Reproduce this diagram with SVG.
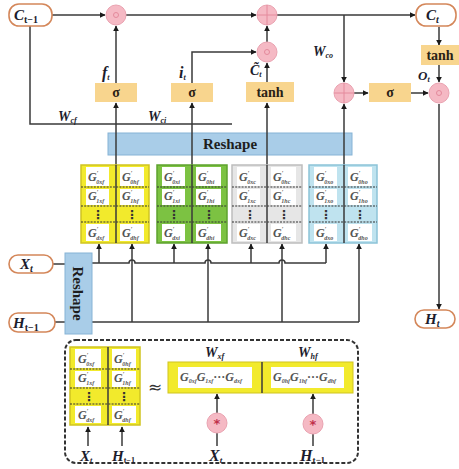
<svg xmlns="http://www.w3.org/2000/svg" width="459" height="469" viewBox="0 0 459 469">
<defs>
<marker id="ah" viewBox="0 0 10 10" refX="9" refY="5" markerWidth="6" markerHeight="6" orient="auto" markerUnits="userSpaceOnUse"><path d="M0,0 L10,5 L0,10 z" fill="#1a1a1a"/></marker>
<style>
.ln{fill:none;stroke:#3a3a3a;stroke-width:1.5}
.term{fill:#fff;stroke:#d4875a;stroke-width:1.6}
.tl{font-family:"Liberation Serif",serif;font-weight:bold;font-style:italic;fill:#1c1c2c}
.op{fill:#f5b9c4;stroke:#eaa3b1;stroke-width:1}
.gate{fill:#f8d58e}
.gt{font-family:"Liberation Serif",serif;font-weight:bold;font-size:14px;fill:#2a2216;text-anchor:middle}
.lab{font-family:"Liberation Serif",serif;font-style:italic;font-weight:bold;fill:#1c1c2c}
.cal{font-family:"DejaVu Serif","DejaVu Sans",serif;font-style:italic;font-weight:bold;fill:#1c1c2c}
.cell{fill:#fff}
.g{font-family:"Liberation Serif","DejaVu Serif",serif;font-style:italic;font-weight:bold;font-size:12px;fill:#555}
.s{font-size:6px}
.sep{stroke:#333;stroke-width:1.2;stroke-dasharray:2 1.2}
.dots{font-family:"DejaVu Sans",sans-serif;font-weight:bold;font-size:12px;fill:#333;text-anchor:middle}
.rs{fill:#a9cde8;stroke:#86b3d6;stroke-width:1}
.rst{font-family:"Liberation Serif",serif;font-weight:bold;font-size:15px;fill:#1e1e1e;text-anchor:middle}
</style>
</defs>

<g id="connectors">
<path class="ln" d="M52,15 H105" marker-end="url(#ah)"/>
<path class="ln" d="M126,15 H256" marker-end="url(#ah)"/>
<path class="ln" d="M277,15 H415" marker-end="url(#ah)"/>
<path class="ln" d="M30,26 V124 H232"/>
<path class="ln" d="M116,83 V26" marker-end="url(#ah)"/>
<path class="ln" d="M192,83 V52 H256" marker-end="url(#ah)"/>
<path class="ln" d="M267,82 V63" marker-end="url(#ah)"/>
<path class="ln" d="M267,42 V26" marker-end="url(#ah)"/>
<path class="ln" d="M344,15 V82" marker-end="url(#ah)"/>
<path class="ln" d="M354,93 H368" marker-end="url(#ah)"/>
<path class="ln" d="M411,93 H428" marker-end="url(#ah)"/>
<path class="ln" d="M439,27 V45" marker-end="url(#ah)"/>
<path class="ln" d="M439,65 V82" marker-end="url(#ah)"/>
<path class="ln" d="M439,104 V309" marker-end="url(#ah)"/>
<path class="ln" d="M53,264 H65"/>
<path class="ln" d="M55,322 H65"/>
<path class="ln" d="M92,263 H129 a3,3 0 0 1 6,0 H205 a3,3 0 0 1 6,0 H279 a3,3 0 0 1 6,0 H326"/>
<path class="ln" d="M92,322 H359"/>
<path class="ln" d="M99,263 V244" marker-end="url(#ah)"/>
<path class="ln" d="M174,263 V244" marker-end="url(#ah)"/>
<path class="ln" d="M251,263 V244" marker-end="url(#ah)"/>
<path class="ln" d="M326,263 V244" marker-end="url(#ah)"/>
<path class="ln" d="M132,322 V244" marker-end="url(#ah)"/>
<path class="ln" d="M208,322 V244" marker-end="url(#ah)"/>
<path class="ln" d="M282,322 V244" marker-end="url(#ah)"/>
<path class="ln" d="M359,322 V244" marker-end="url(#ah)"/>
<path class="ln" d="M88,446 V427" marker-end="url(#ah)"/>
<path class="ln" d="M122,446 V427" marker-end="url(#ah)"/>
<path class="ln" d="M217,413 V394" marker-end="url(#ah)"/>
<path class="ln" d="M217,433 V446"/>
<path class="ln" d="M313,414 V394" marker-end="url(#ah)"/>
<path class="ln" d="M313,434 V446"/>
</g>

<g id="c_prev"><rect class="term" x="9" y="4" width="43" height="22" rx="10"/><text class="tl" x="14" y="20" font-size="15">C<tspan font-size="10" dy="3" font-style="normal">t−1</tspan></text></g>
<g id="c_t"><rect class="term" x="416" y="4" width="40" height="22" rx="10"/><text class="tl" x="426" y="20" font-size="15">C<tspan font-size="10" dy="3">t</tspan></text></g>
<g id="x_t"><rect class="term" x="9" y="255" width="44" height="18" rx="9"/><text class="tl" x="20" y="269" font-size="15">X<tspan font-size="10" dy="3">t</tspan></text></g>
<g id="h_prev"><rect class="term" x="9" y="313" width="46" height="19" rx="9"/><text class="tl" x="13" y="328" font-size="15">H<tspan font-size="10" dy="3" font-style="normal">t−1</tspan></text></g>
<g id="h_t"><rect class="term" x="415" y="310" width="40" height="18" rx="9"/><text class="tl" x="425" y="324" font-size="15">H<tspan font-size="10" dy="3">t</tspan></text></g>

<g id="mul_f"><circle class="op" cx="116" cy="15" r="10"/><circle cx="116" cy="15" r="2.5" fill="none" stroke="#e48a9c" stroke-width="1"/></g>
<g id="add_c"><circle class="op" cx="267" cy="15" r="10"/><path d="M257,15 H277 M267,5 V25" stroke="#e48a9c" stroke-width="1"/></g>
<g id="mul_i"><circle class="op" cx="267" cy="52" r="10"/><circle cx="267" cy="52" r="2.5" fill="none" stroke="#e48a9c" stroke-width="1"/></g>
<g id="add_o"><circle class="op" cx="344" cy="93" r="10"/><path d="M334,93 H354 M344,83 V103" stroke="#e48a9c" stroke-width="1"/></g>
<g id="mul_o"><circle class="op" cx="439" cy="93" r="10"/><circle cx="439" cy="93" r="2.5" fill="none" stroke="#e48a9c" stroke-width="1"/></g>

<g id="sig_f"><rect class="gate" x="95" y="83" width="42" height="19"/><text class="gt" x="116" y="97">σ</text></g>
<g id="sig_i"><rect class="gate" x="171" y="83" width="42" height="19"/><text class="gt" x="192" y="97">σ</text></g>
<g id="tanh_c"><rect class="gate" x="246" y="82" width="48" height="20"/><text class="gt" x="270" y="97">tanh</text></g>
<g id="sig_o"><rect class="gate" x="369" y="83" width="42" height="19"/><text class="gt" x="390" y="97">σ</text></g>
<g id="tanh_o"><rect class="gate" x="421" y="45" width="38" height="20"/><text class="gt" x="440" y="60">tanh</text></g>

<g id="labels">
<text class="lab" x="102" y="78" font-size="16">f<tspan font-size="8" dy="2">t</tspan></text>
<text class="lab" x="179" y="78" font-size="16">i<tspan font-size="8" dy="2">t</tspan></text>
<text class="lab" x="250" y="75" font-size="14">C̃<tspan font-size="8" dy="2">t</tspan></text>
<text class="lab" x="418" y="80" font-size="13">O<tspan font-size="8" dy="2">t</tspan></text>
<text class="lab" x="58" y="121" font-size="14">W<tspan font-size="8" dy="2">cf</tspan></text>
<text class="lab" x="148" y="121" font-size="14">W<tspan font-size="8" dy="2">ci</tspan></text>
<text class="lab" x="313" y="56" font-size="14">W<tspan font-size="8" dy="2">co</tspan></text>
</g>

<g id="reshape_top"><rect class="rs" x="108" y="133" width="244" height="22"/><text class="rst" x="230" y="149">Reshape</text></g>
<g id="reshape_in"><rect class="rs" x="65" y="253" width="27" height="81"/><text class="rst" transform="translate(73,293.5) rotate(90)" x="0" y="0">Reshape</text></g>

<g id="gate-lines">
<path class="ln" d="M116,243 V103" marker-end="url(#ah)"/>
<path class="ln" d="M192,243 V103" marker-end="url(#ah)"/>
<path class="ln" d="M267,243 V103" marker-end="url(#ah)"/>
<path class="ln" d="M344,243 V104" marker-end="url(#ah)"/>
</g>

<g id="block_f">
<rect x="81" y="165" width="68" height="78" fill="#f2ea2c" stroke="#cfc421" stroke-width="1.5"/>
<rect class="cell" x="86" y="167" width="23" height="19"/><rect class="cell" x="120" y="167" width="24" height="19"/>
<rect class="cell" x="86" y="189" width="23" height="16"/><rect class="cell" x="120" y="189" width="24" height="16"/>
<rect class="cell" x="86" y="224" width="23" height="17"/><rect class="cell" x="120" y="224" width="24" height="17"/>
<path class="sep" d="M81,187 H149 M81,206 H149 M81,222 H149"/>
<text class="dots" x="98" y="219">⋮</text><text class="dots" x="132" y="219">⋮</text>
<text class="g" x="88" y="181">G<tspan class="s" dy="-6">′</tspan><tspan class="s" dx="-2" dy="9">0xf</tspan></text>
<text class="g" x="122" y="181">G<tspan class="s" dy="-6">′</tspan><tspan class="s" dx="-2" dy="9">0hf</tspan></text>
<text class="g" x="88" y="200">G<tspan class="s" dy="-6">′</tspan><tspan class="s" dx="-2" dy="9">1xf</tspan></text>
<text class="g" x="122" y="200">G<tspan class="s" dy="-6">′</tspan><tspan class="s" dx="-2" dy="9">1hf</tspan></text>
<text class="g" x="88" y="237">G<tspan class="s" dy="-6">′</tspan><tspan class="s" dx="-2" dy="9">dxf</tspan></text>
<text class="g" x="122" y="237">G<tspan class="s" dy="-6">′</tspan><tspan class="s" dx="-2" dy="9">dhf</tspan></text>
</g>
<g id="block_i">
<rect x="157" y="165" width="70" height="78" fill="#7cc242" stroke="#5ea22e" stroke-width="1.5"/>
<rect class="cell" x="162" y="167" width="23" height="19"/><rect class="cell" x="196" y="167" width="25" height="19"/>
<rect class="cell" x="162" y="189" width="23" height="16"/><rect class="cell" x="196" y="189" width="25" height="16"/>
<rect class="cell" x="162" y="224" width="23" height="17"/><rect class="cell" x="196" y="224" width="25" height="17"/>
<path class="sep" d="M157,187 H227 M157,206 H227 M157,222 H227"/>
<text class="dots" x="174" y="219">⋮</text><text class="dots" x="209" y="219">⋮</text>
<text class="g" x="164" y="181">G<tspan class="s" dy="-6">′</tspan><tspan class="s" dx="-2" dy="9">0xi</tspan></text>
<text class="g" x="198" y="181">G<tspan class="s" dy="-6">′</tspan><tspan class="s" dx="-2" dy="9">0hi</tspan></text>
<text class="g" x="164" y="200">G<tspan class="s" dy="-6">′</tspan><tspan class="s" dx="-2" dy="9">1xi</tspan></text>
<text class="g" x="198" y="200">G<tspan class="s" dy="-6">′</tspan><tspan class="s" dx="-2" dy="9">1hi</tspan></text>
<text class="g" x="164" y="237">G<tspan class="s" dy="-6">′</tspan><tspan class="s" dx="-2" dy="9">dxi</tspan></text>
<text class="g" x="198" y="237">G<tspan class="s" dy="-6">′</tspan><tspan class="s" dx="-2" dy="9">dhi</tspan></text>
</g>
<g id="block_c">
<rect x="232" y="165" width="70" height="78" fill="#e6e6e6" stroke="#bdbdbd" stroke-width="1.5"/>
<rect class="cell" x="237" y="167" width="23" height="19"/><rect class="cell" x="271" y="167" width="25" height="19"/>
<rect class="cell" x="237" y="189" width="23" height="16"/><rect class="cell" x="271" y="189" width="25" height="16"/>
<rect class="cell" x="237" y="224" width="23" height="17"/><rect class="cell" x="271" y="224" width="25" height="17"/>
<path class="sep" d="M232,187 H302 M232,206 H302 M232,222 H302"/>
<text class="dots" x="250" y="219">⋮</text><text class="dots" x="284" y="219">⋮</text>
<text class="g" x="239" y="181">G<tspan class="s" dy="-6">′</tspan><tspan class="s" dx="-2" dy="9">0xc</tspan></text>
<text class="g" x="273" y="181">G<tspan class="s" dy="-6">′</tspan><tspan class="s" dx="-2" dy="9">0hc</tspan></text>
<text class="g" x="239" y="200">G<tspan class="s" dy="-6">′</tspan><tspan class="s" dx="-2" dy="9">1xc</tspan></text>
<text class="g" x="273" y="200">G<tspan class="s" dy="-6">′</tspan><tspan class="s" dx="-2" dy="9">1hc</tspan></text>
<text class="g" x="239" y="237">G<tspan class="s" dy="-6">′</tspan><tspan class="s" dx="-2" dy="9">dxc</tspan></text>
<text class="g" x="273" y="237">G<tspan class="s" dy="-6">′</tspan><tspan class="s" dx="-2" dy="9">dhc</tspan></text>
</g>
<g id="block_o">
<rect x="309" y="165" width="68" height="78" fill="#bfe3ef" stroke="#8cc3d8" stroke-width="1.5"/>
<rect class="cell" x="314" y="167" width="23" height="19"/><rect class="cell" x="348" y="167" width="24" height="19"/>
<rect class="cell" x="314" y="189" width="23" height="16"/><rect class="cell" x="348" y="189" width="24" height="16"/>
<rect class="cell" x="314" y="224" width="23" height="17"/><rect class="cell" x="348" y="224" width="24" height="17"/>
<path class="sep" d="M309,187 H377 M309,206 H377 M309,222 H377"/>
<text class="dots" x="326" y="219">⋮</text><text class="dots" x="360" y="219">⋮</text>
<text class="g" x="316" y="181">G<tspan class="s" dy="-6">′</tspan><tspan class="s" dx="-2" dy="9">0xo</tspan></text>
<text class="g" x="350" y="181">G<tspan class="s" dy="-6">′</tspan><tspan class="s" dx="-2" dy="9">0ho</tspan></text>
<text class="g" x="316" y="200">G<tspan class="s" dy="-6">′</tspan><tspan class="s" dx="-2" dy="9">1xo</tspan></text>
<text class="g" x="350" y="200">G<tspan class="s" dy="-6">′</tspan><tspan class="s" dx="-2" dy="9">1ho</tspan></text>
<text class="g" x="316" y="237">G<tspan class="s" dy="-6">′</tspan><tspan class="s" dx="-2" dy="9">dxo</tspan></text>
<text class="g" x="350" y="237">G<tspan class="s" dy="-6">′</tspan><tspan class="s" dx="-2" dy="9">dho</tspan></text>
</g>
<g id="block-dividers">
<path d="M116,165 V243 M192,165 V243 M267,165 V243 M344,165 V243" stroke="#3a3a3a" stroke-width="1.5"/>
</g>

<g id="legend">
<rect x="65" y="340" width="293" height="123" rx="11" fill="none" stroke="#333" stroke-width="2" stroke-dasharray="4 2"/>
<rect x="70" y="347" width="70" height="78" fill="#f2ea2c" stroke="#cfc421" stroke-width="1.5"/>
<rect class="cell" x="75" y="349" width="26" height="19"/><rect class="cell" x="112" y="349" width="24" height="19"/>
<rect class="cell" x="75" y="371" width="26" height="16"/><rect class="cell" x="112" y="371" width="24" height="16"/>
<rect class="cell" x="75" y="406" width="26" height="17"/><rect class="cell" x="112" y="406" width="24" height="17"/>
<path class="sep" d="M70,369 H140 M70,388 H140 M70,404 H140"/>
<path d="M108,347 V425" stroke="#3a3a3a" stroke-width="1.5"/>
<text class="dots" x="89" y="401">⋮</text><text class="dots" x="124" y="401">⋮</text>
<text class="g" x="78" y="363">G<tspan class="s" dy="-6">′</tspan><tspan class="s" dx="-2" dy="9">0xf</tspan></text>
<text class="g" x="114" y="363">G<tspan class="s" dy="-6">′</tspan><tspan class="s" dx="-2" dy="9">0hf</tspan></text>
<text class="g" x="78" y="382">G<tspan class="s" dy="-6">′</tspan><tspan class="s" dx="-2" dy="9">1xf</tspan></text>
<text class="g" x="114" y="382">G<tspan class="s" dy="-6">′</tspan><tspan class="s" dx="-2" dy="9">1hf</tspan></text>
<text class="g" x="78" y="419">G<tspan class="s" dy="-6">′</tspan><tspan class="s" dx="-2" dy="9">dxf</tspan></text>
<text class="g" x="114" y="419">G<tspan class="s" dy="-6">′</tspan><tspan class="s" dx="-2" dy="9">dhf</tspan></text>
<text x="155" y="393" font-family="DejaVu Sans,sans-serif" font-size="17" fill="#333" text-anchor="middle">≈</text>
<rect x="168" y="362" width="185" height="31" fill="#f2ea2c" stroke="#cfc421" stroke-width="1"/>
<rect class="cell" x="178" y="367" width="74" height="21"/><rect class="cell" x="271" y="367" width="73" height="21"/>
<path d="M262,362 V393" stroke="#3a3a3a" stroke-width="1.5"/>
<text class="g" x="180" y="381" font-size="8">G<tspan class="s" dy="2" font-size="4.5">0xf</tspan><tspan dy="-2">G</tspan><tspan class="s" dy="2" font-size="4.5">1xf</tspan><tspan dy="-2" font-style="normal">···</tspan><tspan>G</tspan><tspan class="s" dy="2" font-size="4.5">dxf</tspan></text>
<text class="g" x="273" y="381" font-size="8">G<tspan class="s" dy="2" font-size="4.5">0hf</tspan><tspan dy="-2">G</tspan><tspan class="s" dy="2" font-size="4.5">1hf</tspan><tspan dy="-2" font-style="normal">···</tspan><tspan>G</tspan><tspan class="s" dy="2" font-size="4.5">dhf</tspan></text>
<text class="lab" x="205" y="357" font-size="14" fill="#333">W<tspan font-size="8" dy="2">xf</tspan></text>
<text class="lab" x="298" y="357" font-size="14" fill="#333">W<tspan font-size="8" dy="2">hf</tspan></text>
<circle class="op" cx="217" cy="423" r="10"/><text x="217" y="428" font-family="DejaVu Sans,sans-serif" font-size="13" font-weight="bold" fill="#c0304a" text-anchor="middle">*</text>
<circle class="op" cx="313" cy="424" r="10"/><text x="313" y="429" font-family="DejaVu Sans,sans-serif" font-size="13" font-weight="bold" fill="#c0304a" text-anchor="middle">*</text>
<text class="lab" x="80" y="461" font-size="15">X<tspan font-size="8" dy="2">t</tspan></text>
<text class="lab" x="112" y="461" font-size="15">H<tspan font-size="8" dy="2" font-style="normal">t−1</tspan></text>
<text class="lab" x="209" y="461" font-size="16">X<tspan font-size="9" dy="2">t</tspan></text>
<text class="lab" x="300" y="461" font-size="16">H<tspan font-size="9" dy="2" font-style="normal">t−1</tspan></text>
</g>
</svg>
